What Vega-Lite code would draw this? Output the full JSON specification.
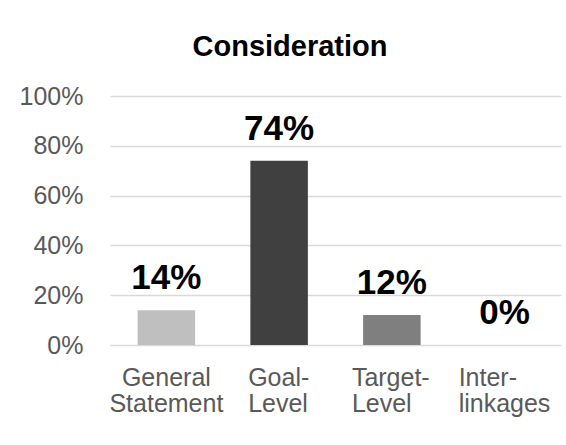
{
  "$schema": "https://vega.github.io/schema/vega-lite/v6.json",
  "width": 451,
  "height": 249,
  "autosize": {"type": "none"},
  "padding": {"left": 110, "top": 96, "right": 5, "bottom": 100},
  "background": "white",
  "config": {
    "view": {"stroke": null},
    "font": "Liberation Sans"
  },
  "title": {
    "text": "Consideration",
    "fontSize": 29,
    "fontWeight": "bold",
    "color": "#000000",
    "font": "Liberation Sans",
    "anchor": "middle",
    "frame": "bounds",
    "offset": 22
  },
  "data": {
    "values": [
      {"category": "General Statement", "value": 0.14},
      {"category": "Goal-Level", "value": 0.74},
      {"category": "Target-Level", "value": 0.12},
      {"category": "Inter-linkages", "value": 0.0}
    ]
  },
  "encoding": {
    "x": {
      "field": "category",
      "type": "nominal",
      "sort": null,
      "scale": {"paddingInner": 0.49, "paddingOuter": 0.245},
      "axis": {
        "title": null,
        "labelAngle": 0,
        "ticks": false,
        "domain": false,
        "labelFontSize": 25,
        "labelColor": "#595959",
        "labelPadding": 20,
        "labelLineHeight": 26,
        "labelBaseline": "top",
        "labelAlign": {"condition": {"test": "datum.value == 'General Statement'", "value": "center"}, "value": "left"},
        "labelOffset": {"condition": [
          {"test": "datum.value == 'General Statement'", "value": 0},
          {"test": "datum.value == 'Goal-Level'", "value": -31},
          {"test": "datum.value == 'Target-Level'", "value": -40}
        ], "value": -46},
        "labelExpr": "datum.value == 'General Statement' ? ['General', 'Statement'] : split(replace(datum.value, '-', '-|'), '|')"
      }
    },
    "y": {
      "field": "value",
      "type": "quantitative",
      "scale": {"domain": [0, 1], "nice": false},
      "axis": {
        "title": null,
        "values": [0, 0.2, 0.4, 0.6, 0.8, 1.0],
        "format": ".0%",
        "ticks": false,
        "domain": false,
        "labelFontSize": 25,
        "labelColor": "#595959",
        "labelPadding": 27,
        "gridColor": "#d9d9d9",
        "gridWidth": 1.5
      }
    }
  },
  "layer": [
    {
      "mark": {"type": "bar"},
      "encoding": {
        "color": {
          "field": "category",
          "type": "nominal",
          "scale": {
            "domain": ["General Statement", "Goal-Level", "Target-Level", "Inter-linkages"],
            "range": ["#bfbfbf", "#404040", "#7f7f7f", "#a5a5a5"]
          },
          "legend": null
        }
      }
    },
    {
      "mark": {
        "type": "text",
        "baseline": "alphabetic",
        "dy": -21,
        "fontSize": 35,
        "fontWeight": "bold",
        "color": "#000000",
        "font": "Liberation Sans"
      },
      "encoding": {
        "text": {"field": "value", "type": "quantitative", "format": ".0%"}
      }
    }
  ]
}
